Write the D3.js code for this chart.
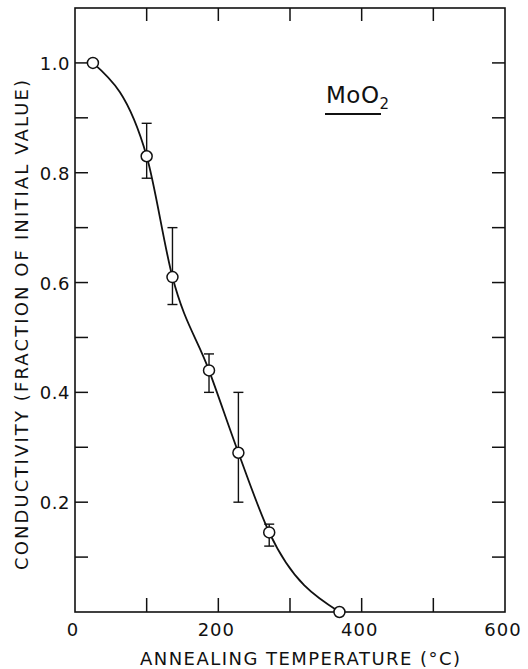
<!DOCTYPE html>
<html>
<head>
<meta charset="utf-8">
<script src="https://cdn.jsdelivr.net/npm/d3@7"></script>
<style>
  body { margin: 0; background: #fff; }
  text { font-family: "DejaVu Sans", "Liberation Sans", sans-serif; fill: #111; }
</style>
</head>
<body>
<script>
// annealing temperature (C) and conductivity (fraction of initial value)
var temps = [25, 100, 136, 187, 228, 271, 369];
var cond  = [1.0, 0.83, 0.61, 0.44, 0.29, 0.145, 0.0];
// error bar limits, null where there is none
var errLow  = [null, 0.79, 0.56, 0.40, 0.20, 0.12, null];
var errHigh = [null, 0.89, 0.70, 0.47, 0.40, 0.16, null];

var xLabelTicks = [0, 200, 400, 600];
var xMinorTicks = [100, 200, 300, 400, 500];
var yLabelTicks = [0.2, 0.4, 0.6, 0.8, 1.0];
var yMinorTicks = [0.1, 0.2, 0.3, 0.4, 0.5, 0.6, 0.7, 0.8, 0.9, 1.0];

var xTitle = "ANNEALING TEMPERATURE (\u00B0C)";
var yTitle = "CONDUCTIVITY (FRACTION OF INITIAL VALUE)";
var compound = "MoO", compoundSub = "2";

var width = 528, height = 669;
// note: "top" is taken by window.top, so use plot* names
var plotLeft = 75, plotRight = 505, plotTop = 8, plotBottom = 612;

var svg = d3.select("body").append("svg")
  .attr("width", width)
  .attr("height", height);

var x = d3.scaleLinear().domain([0, 600]).range([plotLeft, plotRight]);
var y = d3.scaleLinear().domain([0, 1.1]).range([plotBottom, plotTop]);

// frame
svg.append("rect")
  .attr("x", plotLeft).attr("y", plotTop)
  .attr("width", plotRight - plotLeft).attr("height", plotBottom - plotTop)
  .attr("fill", "none").attr("stroke", "#111").attr("stroke-width", 1.6);

// inward ticks, all four sides
var tickLen = 14;
var tk = svg.append("g").attr("stroke", "#111").attr("stroke-width", 1.5);
xMinorTicks.forEach(function(t) {
  tk.append("line").attr("x1", x(t)).attr("x2", x(t)).attr("y1", plotBottom).attr("y2", plotBottom - tickLen);
  tk.append("line").attr("x1", x(t)).attr("x2", x(t)).attr("y1", plotTop).attr("y2", plotTop + tickLen - 1);
});
yMinorTicks.forEach(function(t) {
  tk.append("line").attr("x1", plotLeft).attr("x2", plotLeft + tickLen - 1).attr("y1", y(t)).attr("y2", y(t));
  tk.append("line").attr("x1", plotRight).attr("x2", plotRight - tickLen + 1).attr("y1", y(t)).attr("y2", y(t));
});

// tick labels
svg.append("g").selectAll("text").data(xLabelTicks).enter().append("text")
  .attr("x", d => x(d) - 2)
  .attr("y", 636)
  .attr("text-anchor", "middle")
  .attr("font-size", 18)
  .attr("letter-spacing", 1)
  .text(d => d);

svg.append("g").selectAll("text").data(yLabelTicks).enter().append("text")
  .attr("x", plotLeft - 5)
  .attr("y", d => y(d) + 7)
  .attr("text-anchor", "end")
  .attr("font-size", 18)
  .attr("letter-spacing", 0.5)
  .text(d => d3.format(".1f")(d));

// axis titles
svg.append("text")
  .attr("x", 140).attr("y", 665)
  .attr("font-size", 18)
  .attr("textLength", 320)
  .attr("lengthAdjust", "spacing")
  .text(xTitle);

svg.append("text")
  .attr("transform", "translate(28,570) rotate(-90)")
  .attr("x", 0).attr("y", 0)
  .attr("font-size", 18)
  .attr("textLength", 490)
  .attr("lengthAdjust", "spacing")
  .text(yTitle);

// compound label
var lab = svg.append("text").attr("x", 326).attr("y", 103).attr("font-size", 23)
  .attr("letter-spacing", 0.5);
lab.append("tspan").text(compound);
lab.append("tspan").attr("font-size", 15).attr("dy", 6).text(compoundSub);
svg.append("line")
  .attr("x1", 325).attr("x2", 381).attr("y1", 114).attr("y2", 114)
  .attr("stroke", "#111").attr("stroke-width", 2);

// fitted curve
var pts = temps.map((t, i) => [t, cond[i]]);
var line = d3.line()
  .x(d => x(d[0]))
  .y(d => y(d[1]))
  .curve(d3.curveMonotoneX);
svg.append("path")
  .datum(pts)
  .attr("d", line)
  .attr("fill", "none")
  .attr("stroke", "#111")
  .attr("stroke-width", 1.8);

// error bars
var eb = svg.append("g").attr("stroke", "#111").attr("stroke-width", 1.4);
temps.forEach(function(t, i) {
  if (errLow[i] == null) return;
  var cx = x(t);
  eb.append("line").attr("x1", cx).attr("x2", cx).attr("y1", y(errLow[i])).attr("y2", y(errHigh[i]));
  eb.append("line").attr("x1", cx - 5).attr("x2", cx + 5).attr("y1", y(errLow[i])).attr("y2", y(errLow[i]));
  eb.append("line").attr("x1", cx - 5).attr("x2", cx + 5).attr("y1", y(errHigh[i])).attr("y2", y(errHigh[i]));
});

// open circles
svg.append("g").selectAll("circle").data(pts).enter().append("circle")
  .attr("cx", d => x(d[0]))
  .attr("cy", d => y(d[1]))
  .attr("r", 5.5)
  .attr("fill", "#fff")
  .attr("stroke", "#111")
  .attr("stroke-width", 1.5);
</script>
</body>
</html>
